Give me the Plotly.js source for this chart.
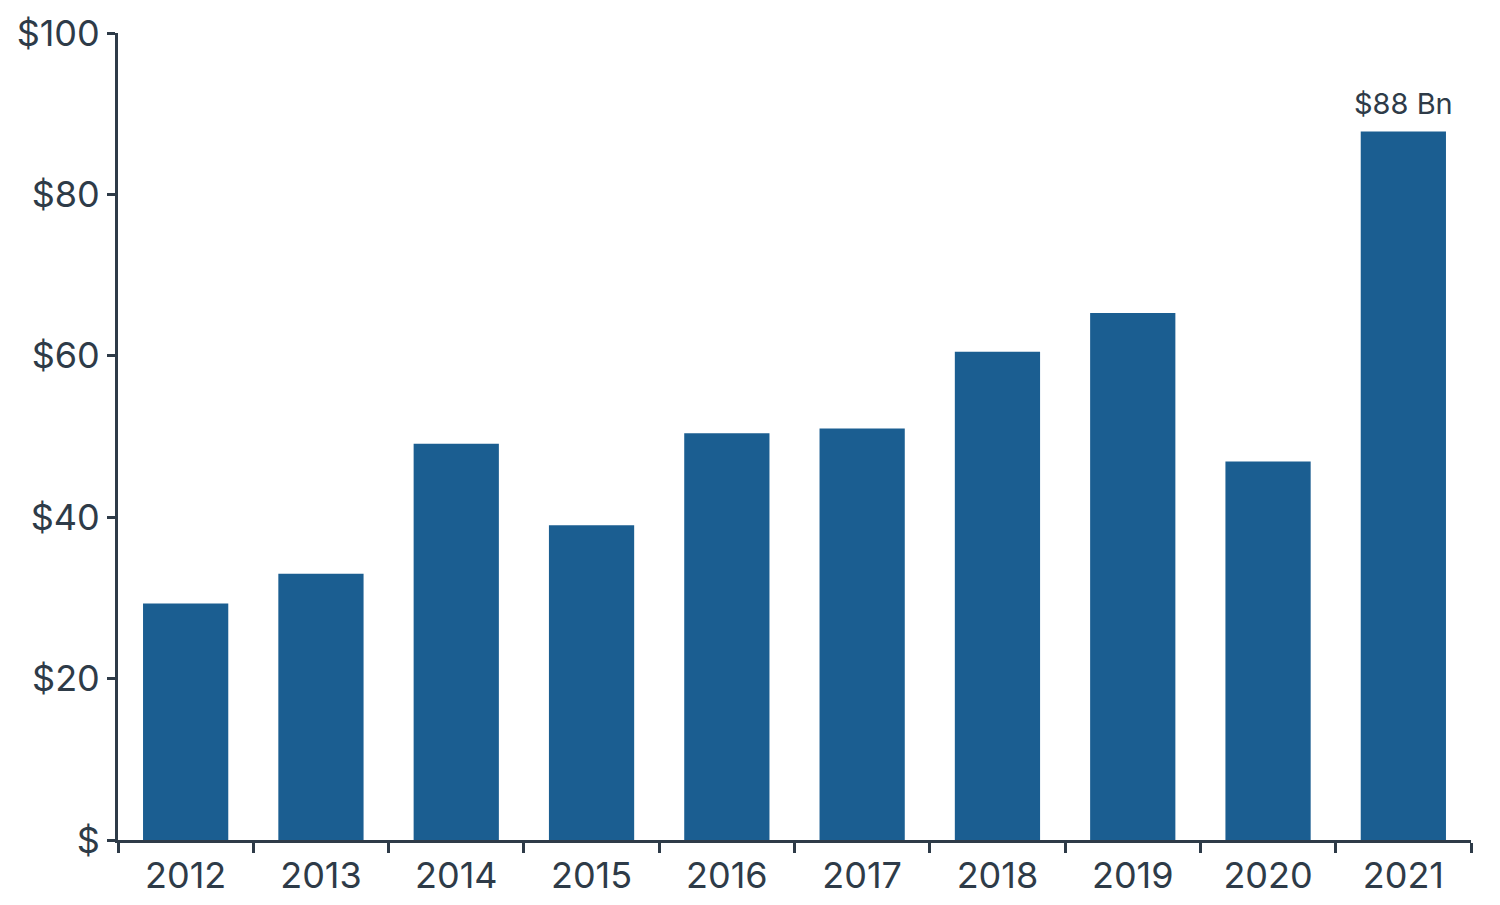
<!DOCTYPE html>
<html>
<head>
<meta charset="utf-8">
<script src="https://cdn.plot.ly/plotly-3.0.1.min.js"></script>
<style>
  html, body { margin: 0; padding: 0; background: #fff; }
  #myDiv { width: 1500px; height: 905px; }
</style>
</head>
<body>
<div id="myDiv"></div>
<script>
var years = ["2012", "2013", "2014", "2015", "2016", "2017", "2018", "2019", "2020", "2021"];
var values = [29.3, 33.0, 49.1, 39.0, 50.4, 51.0, 60.5, 65.3, 46.9, 87.8];
var yTickVals = [0, 20, 40, 60, 80, 100];
var yTickText = ["$", "$20", "$40", "$60", "$80", "$100"];

var ink = "#2e3b48";

var data = [
  {
    type: "bar",
    x: years,
    y: values,
    width: 0.63,
    marker: { color: "#1b5e91", line: { width: 0 } },
    hoverinfo: "x+y"
  }
];

var layout = {
  width: 1500, height: 905,
  margin: { t: 33, r: 29, l: 118, b: 65 },
  paper_bgcolor: "#fff",
  plot_bgcolor: "#fff",
  font: { family: "Inter, Liberation Sans, Arial, sans-serif", color: ink, size: 36 },
  showlegend: false,
  xaxis: {
    type: "category",
    categoryorder: "array",
    categoryarray: years,
    range: [-0.5, years.length - 0.5],
    tickson: "boundaries",
    ticks: "outside",
    ticklen: 10,
    tickwidth: 3,
    tickcolor: ink,
    tickangle: 0,
    ticklabelstandoff: 2,
    showline: true,
    linecolor: ink,
    linewidth: 3,
    showgrid: false,
    zeroline: false,
    tickfont: { size: 36, color: ink }
  },
  yaxis: {
    range: [0, 100],
    tickvals: yTickVals,
    ticktext: yTickText,
    ticks: "outside",
    ticklen: 8,
    tickwidth: 3,
    tickcolor: ink,
    ticklabelstandoff: 0,
    showline: true,
    linecolor: ink,
    linewidth: 3,
    showgrid: false,
    zeroline: false,
    tickfont: { size: 36, color: ink }
  },
  annotations: [
    {
      x: years.length - 1,
      y: values[values.length - 1],
      text: "$" + Math.round(values[values.length - 1]) + " Bn",
      showarrow: false,
      yanchor: "bottom",
      yshift: 8,
      font: { size: 29, color: ink }
    }
  ]
};

Plotly.newPlot("myDiv", data, layout, { displayModeBar: false, staticPlot: true });
</script>
</body>
</html>
